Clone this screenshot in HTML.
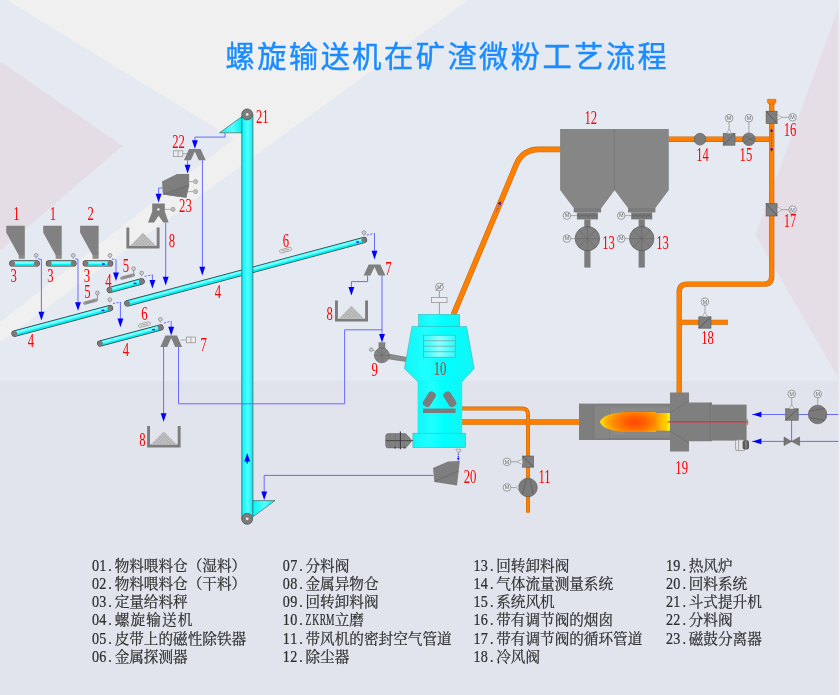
<!DOCTYPE html>
<html lang="zh-CN"><head><meta charset="utf-8"><title>螺旋输送机在矿渣微粉工艺流程</title>
<style>html,body{margin:0;padding:0;background:#e4e8f0}body{width:840px;height:695px;overflow:hidden;font-family:"Liberation Serif",serif}svg{display:block;will-change:transform}</style>
</head><body>
<svg width="840" height="695" viewBox="0 0 840 695" font-family="'Liberation Serif', serif">
<defs><linearGradient id="gb" x1="0" y1="0" x2="0" y2="1"><stop offset="0" stop-color="#e0e3eb"/><stop offset="0.1" stop-color="#e1e4ec"/><stop offset="1" stop-color="#e1e4ec"/></linearGradient><linearGradient id="gc" x1="0" y1="0" x2="1" y2="0"><stop offset="0" stop-color="#00f4f4"/><stop offset="0.55" stop-color="#55ffff"/><stop offset="1" stop-color="#00ecec"/></linearGradient><linearGradient id="gm" x1="0" y1="0" x2="1" y2="0"><stop offset="0" stop-color="#10f6f6"/><stop offset="0.3" stop-color="#20ffff"/><stop offset="0.6" stop-color="#00ffff"/><stop offset="1" stop-color="#14f4f4"/></linearGradient><linearGradient id="gw" x1="0" y1="0" x2="1" y2="0"><stop offset="0" stop-color="#28ffff"/><stop offset="0.5" stop-color="#8effff"/><stop offset="1" stop-color="#28ffff"/></linearGradient><radialGradient id="gf" cx="0.62" cy="0.5" r="0.63" gradientTransform="translate(0,0.5) scale(1,1.45) translate(0,-0.5)"><stop offset="0" stop-color="#ff4608"/><stop offset="0.3" stop-color="#ff6200"/><stop offset="0.6" stop-color="#ff8a00"/><stop offset="0.8" stop-color="#ffae00"/><stop offset="0.93" stop-color="#ffd600"/><stop offset="1" stop-color="#fff000"/></radialGradient><linearGradient id="gf2" x1="0" y1="0" x2="1" y2="0"><stop offset="0" stop-color="#ff9400"/><stop offset="1" stop-color="#ffd800"/></linearGradient><pattern id="dots" width="3.2" height="3.2" patternUnits="userSpaceOnUse"><rect width="3.2" height="3.2" fill="#b4b4b4"/><circle cx="0.8" cy="0.8" r="0.95" fill="#dedede" stroke="#8e8e8e" stroke-width="0.35"/><circle cx="2.4" cy="2.4" r="0.95" fill="#dedede" stroke="#8e8e8e" stroke-width="0.35"/></pattern></defs>
<rect x="0" y="0" width="840" height="695" fill="#e5e9f1"/>
<polygon points="7,0 468,0 0,342 0,322.3 233.5,139" fill="#f0f0f0"/>
<polygon points="0,61.6 122.6,145.8 0,250.7" fill="#e5dde5"/>
<polygon points="840,3.8 755.4,234.4 840,381" fill="#e6dee6"/>
<rect x="0" y="381" width="840" height="314" fill="url(#gb)"/>
<rect x="838.4" y="0" width="1.6" height="695" fill="#eceef3"/>
<path d="M453.4,314.6 L516.2,164.6 Q522.6,149.4 539.1,149.4 L561,149.4" fill="none" stroke="#c46a10" stroke-width="5.6" stroke-linejoin="round"/>
<path d="M453.4,314.6 L516.2,164.6 Q522.6,149.4 539.1,149.4 L561,149.4" fill="none" stroke="#ff8000" stroke-width="4.5" stroke-linejoin="round"/>
<path d="M668,139.2 L771.6,139.2" fill="none" stroke="#c46a10" stroke-width="5.4" stroke-linejoin="round"/>
<path d="M668,139.2 L771.6,139.2" fill="none" stroke="#ff8000" stroke-width="4.3" stroke-linejoin="round"/>
<path d="M771.7,101 L771.7,276.2 Q771.7,284.2 763.7,284.2 L687.2,284.2 Q679.2,284.2 679.2,292.2 L679.2,394" fill="none" stroke="#c46a10" stroke-width="5.3" stroke-linejoin="round"/>
<path d="M771.7,101 L771.7,276.2 Q771.7,284.2 763.7,284.2 L687.2,284.2 Q679.2,284.2 679.2,292.2 L679.2,394" fill="none" stroke="#ff8000" stroke-width="4.2" stroke-linejoin="round"/>
<path d="M679.2,322.3 L728,322.3" fill="none" stroke="#c46a10" stroke-width="5" stroke-linejoin="round"/>
<path d="M679.2,322.3 L728,322.3" fill="none" stroke="#ff8000" stroke-width="3.9" stroke-linejoin="round"/>
<path d="M768.2,99.3 h7 q0.8,0 0.8,0.8 v1.4 q0,1.6 -1.6,2.6 h-5.4 q-1.6,-1 -1.6,-2.6 v-1.4 q0,-0.8 0.8,-0.8z" fill="#ff8000" stroke="#c46a10" stroke-width="0.6"/>
<path d="M461,422 L580,422" fill="none" stroke="#c46a10" stroke-width="5.4" stroke-linejoin="round"/>
<path d="M461,422 L580,422" fill="none" stroke="#ff8000" stroke-width="4.3" stroke-linejoin="round"/>
<path d="M461,408.6 L522,408.6 Q528,408.6 528,414.6 L528,512.6" fill="none" stroke="#c46a10" stroke-width="4" stroke-linejoin="round"/>
<path d="M461,408.6 L522,408.6 Q528,408.6 528,414.6 L528,512.6" fill="none" stroke="#ff8000" stroke-width="2.9" stroke-linejoin="round"/>
<polygon points="6.25,225.8 24.8,225.8 24.8,255.2 18.75,255.2 6.25,232.5" fill="#818181"/>
<rect x="18.75" y="255" width="6.05" height="3.8" fill="#8b8b8b"/>
<polygon points="43.2,225.8 61.75,225.8 61.75,255.2 55.7,255.2 43.2,232.5" fill="#818181"/>
<rect x="55.7" y="255" width="6.05" height="3.8" fill="#8b8b8b"/>
<polygon points="80.1,225.8 98.65,225.8 98.65,255.2 92.6,255.2 80.1,232.5" fill="#818181"/>
<rect x="92.6" y="255" width="6.05" height="3.8" fill="#8b8b8b"/>
<line x1="12.4" y1="263.4" x2="36.6" y2="263.4" stroke="#3a3a3a" stroke-width="6.3" stroke-linecap="round"/>
<line x1="12.4" y1="263.4" x2="36.6" y2="263.4" stroke="#00f4f4" stroke-width="4.9"/>
<line x1="12.4" y1="262.7" x2="36.6" y2="262.7" stroke="#7dffff" stroke-width="2.2"/>
<circle cx="12.4" cy="263.4" r="2.65" fill="#7b7b7b"/>
<circle cx="36.6" cy="263.4" r="2.65" fill="#7b7b7b"/>
<line x1="49" y1="263.4" x2="73.4" y2="263.4" stroke="#3a3a3a" stroke-width="6.3" stroke-linecap="round"/>
<line x1="49" y1="263.4" x2="73.4" y2="263.4" stroke="#00f4f4" stroke-width="4.9"/>
<line x1="49" y1="262.7" x2="73.4" y2="262.7" stroke="#7dffff" stroke-width="2.2"/>
<circle cx="49" cy="263.4" r="2.65" fill="#7b7b7b"/>
<circle cx="73.4" cy="263.4" r="2.65" fill="#7b7b7b"/>
<line x1="85.8" y1="263.4" x2="110" y2="263.4" stroke="#3a3a3a" stroke-width="6.3" stroke-linecap="round"/>
<line x1="85.8" y1="263.4" x2="110" y2="263.4" stroke="#00f4f4" stroke-width="4.9"/>
<line x1="85.8" y1="262.7" x2="110" y2="262.7" stroke="#7dffff" stroke-width="2.2"/>
<circle cx="85.8" cy="263.4" r="2.65" fill="#7b7b7b"/>
<circle cx="110" cy="263.4" r="2.65" fill="#7b7b7b"/>
<line x1="109.8" y1="290" x2="141.6" y2="281.4" stroke="#3a3a3a" stroke-width="6.3" stroke-linecap="round"/>
<line x1="109.8" y1="290" x2="141.6" y2="281.4" stroke="#00f4f4" stroke-width="4.9"/>
<line x1="109.62" y1="289.32" x2="141.42" y2="280.72" stroke="#7dffff" stroke-width="2.2"/>
<circle cx="109.8" cy="290" r="2.65" fill="#7b7b7b"/>
<circle cx="141.6" cy="281.4" r="2.65" fill="#7b7b7b"/>
<line x1="14.6" y1="333.6" x2="110" y2="308.1" stroke="#3a3a3a" stroke-width="6.3" stroke-linecap="round"/>
<line x1="14.6" y1="333.6" x2="110" y2="308.1" stroke="#00f4f4" stroke-width="4.9"/>
<line x1="14.42" y1="332.92" x2="109.82" y2="307.42" stroke="#7dffff" stroke-width="2.2"/>
<circle cx="14.6" cy="333.6" r="2.65" fill="#7b7b7b"/>
<circle cx="110" cy="308.1" r="2.65" fill="#7b7b7b"/>
<line x1="127.4" y1="303.4" x2="364" y2="240" stroke="#3a3a3a" stroke-width="6.3" stroke-linecap="round"/>
<line x1="127.4" y1="303.4" x2="364" y2="240" stroke="#00f4f4" stroke-width="4.9"/>
<line x1="127.22" y1="302.72" x2="363.82" y2="239.32" stroke="#7dffff" stroke-width="2.2"/>
<circle cx="127.4" cy="303.4" r="2.65" fill="#7b7b7b"/>
<circle cx="364" cy="240" r="2.65" fill="#7b7b7b"/>
<line x1="100.2" y1="343.5" x2="160.5" y2="327.5" stroke="#3a3a3a" stroke-width="6.3" stroke-linecap="round"/>
<line x1="100.2" y1="343.5" x2="160.5" y2="327.5" stroke="#00f4f4" stroke-width="4.9"/>
<line x1="100.02" y1="342.82" x2="160.32" y2="326.82" stroke="#7dffff" stroke-width="2.2"/>
<circle cx="100.2" cy="343.5" r="2.65" fill="#7b7b7b"/>
<circle cx="160.5" cy="327.5" r="2.65" fill="#7b7b7b"/>
<circle cx="36.2" cy="255.4" r="1.9" fill="#cfcfcf" stroke="#858585" stroke-width="0.7"/>
<line x1="36.2" y1="257.3" x2="36.2" y2="259" stroke="#909090" stroke-width="0.6"/>
<circle cx="73.2" cy="255.4" r="1.9" fill="#cfcfcf" stroke="#858585" stroke-width="0.7"/>
<line x1="73.2" y1="257.3" x2="73.2" y2="259" stroke="#909090" stroke-width="0.6"/>
<circle cx="110" cy="255.4" r="1.9" fill="#cfcfcf" stroke="#858585" stroke-width="0.7"/>
<line x1="110" y1="257.3" x2="110" y2="259" stroke="#909090" stroke-width="0.6"/>
<circle cx="141.6" cy="273" r="1.9" fill="#cfcfcf" stroke="#858585" stroke-width="0.7"/>
<line x1="141.6" y1="274.9" x2="141.6" y2="276.6" stroke="#909090" stroke-width="0.6"/>
<circle cx="109.8" cy="299.6" r="1.9" fill="#cfcfcf" stroke="#858585" stroke-width="0.7"/>
<line x1="109.8" y1="301.5" x2="109.8" y2="303.2" stroke="#909090" stroke-width="0.6"/>
<circle cx="160.4" cy="319.4" r="1.9" fill="#cfcfcf" stroke="#858585" stroke-width="0.7"/>
<line x1="160.4" y1="321.3" x2="160.4" y2="323" stroke="#909090" stroke-width="0.6"/>
<circle cx="364" cy="232.6" r="1.9" fill="#cfcfcf" stroke="#858585" stroke-width="0.7"/>
<line x1="364" y1="234.5" x2="364" y2="236.2" stroke="#909090" stroke-width="0.6"/>
<circle cx="133.6" cy="268.6" r="1.9" fill="#cfcfcf" stroke="#858585" stroke-width="0.7"/>
<line x1="133.6" y1="270.5" x2="133.6" y2="272.2" stroke="#909090" stroke-width="0.6"/>
<circle cx="97.4" cy="293" r="1.9" fill="#cfcfcf" stroke="#858585" stroke-width="0.7"/>
<line x1="97.4" y1="294.9" x2="97.4" y2="296.6" stroke="#909090" stroke-width="0.6"/>
<g transform="translate(127.6,276.6) rotate(-15)"><rect x="-7.2" y="-1.2" width="14.4" height="2.4" rx="1.2" fill="#a8a8a8" stroke="#707070" stroke-width="0.6"/><line x1="-4.8" y1="0" x2="4.8" y2="0" stroke="#707070" stroke-width="0.6"/></g>
<g transform="translate(90.6,301.6) rotate(-15)"><rect x="-7.2" y="-1.2" width="14.4" height="2.4" rx="1.2" fill="#a8a8a8" stroke="#707070" stroke-width="0.6"/><line x1="-4.8" y1="0" x2="4.8" y2="0" stroke="#707070" stroke-width="0.6"/></g>
<line x1="133.6" y1="270.5" x2="133.8" y2="274.6" stroke="#808080" stroke-width="0.7"/>
<line x1="97.4" y1="294.9" x2="97.6" y2="299.4" stroke="#808080" stroke-width="0.7"/>
<g transform="translate(144.4,324.6) rotate(-15)"><rect x="-6.2" y="-1.7" width="12.4" height="3.4" rx="1.7" fill="#e6e6e6" stroke="#8a8a8a" stroke-width="0.6"/><line x1="-3.8" y1="0" x2="3.8" y2="0" stroke="#8a8a8a" stroke-width="0.6"/></g>
<g transform="translate(285.6,250.2) rotate(-15)"><rect x="-6.2" y="-1.7" width="12.4" height="3.4" rx="1.7" fill="#e6e6e6" stroke="#8a8a8a" stroke-width="0.6"/><line x1="-3.8" y1="0" x2="3.8" y2="0" stroke="#8a8a8a" stroke-width="0.6"/></g>
<path d="M126.4,227.4 h2.9 V245.7 H156.7 V227.4 h2.9 V248.6 H126.4z" fill="#7d7d7d"/>
<polygon points="143,232.8 155.9,245.7 130.1,245.7" fill="url(#dots)"/>
<path d="M147.1,426 h2.9 V444.5 H177.7 V426 h2.9 V447.4 H147.1z" fill="#7d7d7d"/>
<polygon points="163.85,431.4 176.9,444.5 150.8,444.5" fill="url(#dots)"/>
<path d="M335,300.4 h2.9 V318.7 H365.1 V300.4 h2.9 V321.6 H335z" fill="#7d7d7d"/>
<polygon points="351.5,305.8 364.3,318.7 338.7,318.7" fill="url(#dots)"/>
<polygon points="189,149 200.6,149 205.7,160.2 198.8,160.2 194.8,151.6 190.8,160.2 183.9,160.2" fill="#7f7f7f"/>
<polygon points="165.4,335.4 177,335.4 182.1,347 175.2,347 171.2,338 167.2,347 160.3,347" fill="#7f7f7f"/>
<polygon points="368.7,264.4 380.3,264.4 385.4,275.4 378.5,275.4 374.5,267 370.5,275.4 363.6,275.4" fill="#7f7f7f"/>
<rect x="173.4" y="150.8" width="9.4" height="5.8" fill="#ececec" stroke="#909090" stroke-width="0.7"/>
<line x1="178.1" y1="150.8" x2="178.1" y2="156.6" stroke="#909090" stroke-width="0.7"/>
<line x1="182.8" y1="153.8" x2="187" y2="153.8" stroke="#909090" stroke-width="0.7"/>
<rect x="186.4" y="337" width="9" height="5.8" fill="#ececec" stroke="#909090" stroke-width="0.7"/>
<line x1="190.9" y1="337" x2="190.9" y2="342.8" stroke="#909090" stroke-width="0.7"/>
<line x1="181" y1="340" x2="186.4" y2="340" stroke="#909090" stroke-width="0.7"/>
<polygon points="162,181.4 177,174.1 189.1,173.9 189.1,185 186.3,197.7 162.9,194.5" fill="#7e7e7e"/>
<polygon points="162.9,194.5 189.1,185.1 186.3,197.7" fill="#787878"/>
<line x1="162.9" y1="194.5" x2="189.1" y2="185.1" stroke="#666" stroke-width="0.6"/>
<line x1="188" y1="181.6" x2="193.4" y2="181.6" stroke="#909090" stroke-width="0.7"/>
<circle cx="195.6" cy="181.6" r="2.1" fill="#bdbdbd" stroke="#909090" stroke-width="0.6"/>
<line x1="188" y1="191.6" x2="193.4" y2="191.6" stroke="#909090" stroke-width="0.7"/>
<circle cx="195.6" cy="191.6" r="2.1" fill="#bdbdbd" stroke="#909090" stroke-width="0.6"/>
<polygon points="152.2,203.4 164.8,203.4 164.8,211.6 168.6,222.6 163.3,222.6 158.6,215.8 154.1,222.6 148,222.6 152.2,211.6" fill="#7e7e7e"/>
<circle cx="158.4" cy="209.4" r="1.2" fill="#f4f4f4"/>
<line x1="164.4" y1="209.4" x2="170.8" y2="209.4" stroke="#909090" stroke-width="0.7"/>
<circle cx="173" cy="209.4" r="2.1" fill="#bdbdbd" stroke="#909090" stroke-width="0.6"/>
<polygon points="219.6,132.8 242.4,116.2 242.4,132.8" fill="url(#gc)" stroke="#4a4a4a" stroke-width="0.6"/>
<polygon points="252.8,500.6 275,500.6 251.8,517.6" fill="url(#gc)" stroke="#4a4a4a" stroke-width="0.6"/>
<rect x="241.8" y="114.4" width="11" height="404.4" fill="url(#gc)"/>
<line x1="241.8" y1="116" x2="241.8" y2="519" stroke="#4a4a4a" stroke-width="0.7"/>
<line x1="252.9" y1="114.4" x2="252.9" y2="516" stroke="#4a4a4a" stroke-width="0.7"/>
<circle cx="247.2" cy="114.4" r="5.5" fill="#7c7c7c" stroke="#4a4a4a" stroke-width="0.7"/>
<circle cx="247.2" cy="114.4" r="1.4" fill="#e8e8e8"/>
<circle cx="247.2" cy="518.8" r="5.5" fill="#7c7c7c" stroke="#4a4a4a" stroke-width="0.7"/>
<circle cx="247.2" cy="518.8" r="1.4" fill="#e8e8e8"/>
<polygon points="388,353.6 406.8,357 406.8,361.9 388,359.2" fill="#868686"/>
<line x1="388" y1="356.4" x2="406.8" y2="359.4" stroke="#959595" stroke-width="0.8"/>
<rect x="378.9" y="342.6" width="6.1" height="6.4" fill="#848484" stroke="#666" stroke-width="0.4"/>
<circle cx="381.8" cy="355.3" r="7.5" fill="#878787" stroke="#606060" stroke-width="0.6"/>
<line x1="374.6" y1="355.3" x2="389" y2="355.3" stroke="#5e5e5e" stroke-width="0.5"/>
<line x1="376.71" y1="350.21" x2="386.89" y2="360.39" stroke="#5e5e5e" stroke-width="0.5"/>
<line x1="381.8" y1="348.1" x2="381.8" y2="362.5" stroke="#5e5e5e" stroke-width="0.5"/>
<line x1="386.89" y1="350.21" x2="376.71" y2="360.39" stroke="#5e5e5e" stroke-width="0.5"/>
<line x1="375.15" y1="352.54" x2="388.45" y2="358.06" stroke="#777" stroke-width="0.35"/>
<line x1="379.04" y1="348.65" x2="384.56" y2="361.95" stroke="#777" stroke-width="0.35"/>
<line x1="384.56" y1="348.65" x2="379.04" y2="361.95" stroke="#777" stroke-width="0.35"/>
<line x1="388.45" y1="352.54" x2="375.15" y2="358.06" stroke="#777" stroke-width="0.35"/>
<circle cx="371.2" cy="349.6" r="1.9" fill="#c4c4c4" stroke="#8a8a8a" stroke-width="0.6"/>
<line x1="373" y1="350.2" x2="375.2" y2="351.4" stroke="#909090" stroke-width="0.6"/>
<line x1="439.4" y1="291" x2="439.4" y2="314.4" stroke="#8a8a8a" stroke-width="0.8"/>
<rect x="431.4" y="297.4" width="15.6" height="5.2" fill="#eaedf3" stroke="#8a8a8a" stroke-width="0.7"/>
<circle cx="439.4" cy="287" r="3.9" fill="#e9ecf2" stroke="#858585" stroke-width="0.75"/>
<line x1="435.7" y1="291.1" x2="443.6" y2="282.9" stroke="#707070" stroke-width="0.7"/>
<text x="439.4" y="288.8" font-size="5" text-anchor="middle" fill="#777" font-family="Liberation Sans, sans-serif">M</text>
<rect x="418.6" y="314.4" width="41" height="12.6" fill="url(#gm)" stroke="#3aa" stroke-width="0.5"/>
<polygon points="412,326.4 466.6,326.4 474.2,368.6 462.2,381.4 417.6,381.4 404.4,368.6" fill="url(#gm)" stroke="#3aa" stroke-width="0.5"/>
<rect x="417.6" y="381.2" width="44.6" height="52.2" fill="url(#gm)"/>
<rect x="412.9" y="433.2" width="52.7" height="14.4" fill="url(#gm)" stroke="#3aa" stroke-width="0.5"/>
<rect x="423.6" y="335.2" width="31.6" height="22" fill="url(#gw)" stroke="#7a9a9a" stroke-width="0.7"/>
<line x1="423.6" y1="340.7" x2="455.2" y2="340.7" stroke="#7a9a9a" stroke-width="0.7"/>
<line x1="423.6" y1="346.2" x2="455.2" y2="346.2" stroke="#7a9a9a" stroke-width="0.7"/>
<line x1="423.6" y1="351.7" x2="455.2" y2="351.7" stroke="#7a9a9a" stroke-width="0.7"/>
<rect x="-4" y="-8.2" width="8" height="16.4" rx="3.2" fill="#7c7c7c" transform="translate(429.4,399.2) rotate(32)"/>
<rect x="-4" y="-8.2" width="8" height="16.4" rx="3.2" fill="#7c7c7c" transform="translate(449.8,399.2) rotate(-32)"/>
<rect x="423" y="408.6" width="32.6" height="4.4" fill="#7c7c7c"/>
<path d="M388.2,433.6 H405.4 L408,436 L411,439.4 V442 L408,445.6 L405.4,447.9 H388.2 Q385.7,447.9 385.7,445.4 V436.1 Q385.7,433.6 388.2,433.6z" fill="#828282" stroke="#5c5c5c" stroke-width="0.5"/>
<line x1="385.7" y1="440.7" x2="413" y2="440.7" stroke="#3c3c3c" stroke-width="0.9"/>
<line x1="400.4" y1="431.4" x2="400.4" y2="449.2" stroke="#3c3c3c" stroke-width="1.1"/>
<line x1="390" y1="434" x2="390" y2="447.6" stroke="#6a6a6a" stroke-width="0.5"/>
<line x1="395.2" y1="434" x2="395.2" y2="447.6" stroke="#6a6a6a" stroke-width="0.5"/>
<line x1="404.2" y1="434" x2="404.2" y2="447.6" stroke="#6a6a6a" stroke-width="0.5"/>
<rect x="394" y="446.8" width="2" height="1.6" fill="#4a4a4a"/>
<rect x="403.6" y="446.8" width="2" height="1.6" fill="#4a4a4a"/>
<polygon points="455.8,449.2 460.8,449.2 458.3,453" fill="#e8e8e8" stroke="#888" stroke-width="0.6"/>
<line x1="458.3" y1="453" x2="461.6" y2="450.4" stroke="#888" stroke-width="0.6"/>
<line x1="458.3" y1="453.6" x2="458.3" y2="460.6" stroke="#0000ff" stroke-width="1" stroke-dasharray="1.2,1"/>
<circle cx="458.3" cy="458.6" r="1.1" fill="#0000ff"/>
<polygon points="433,468 448,461.6 459.8,461 457,485.4 434.4,482" fill="#7e7e7e"/>
<line x1="434.6" y1="481.4" x2="458.6" y2="471" stroke="#626262" stroke-width="0.7"/>
<rect x="522.6" y="456" width="11" height="11.2" fill="#7e7e7e" stroke="#5a5a5a" stroke-width="0.6"/>
<line x1="522.6" y1="456" x2="533.6" y2="467.2" stroke="#4a4a4a" stroke-width="0.7"/>
<circle cx="528" cy="487.5" r="9.3" fill="#7a7a7a" stroke="#555" stroke-width="0.6"/>
<line x1="522.4" y1="494.6" x2="526.4" y2="478.4" stroke="#555" stroke-width="0.6"/>
<line x1="533.4" y1="494.8" x2="529.6" y2="478.4" stroke="#555" stroke-width="0.6"/>
<circle cx="507" cy="461.8" r="3.8" fill="#eaedf3" stroke="#808080" stroke-width="0.75"/>
<text x="507" y="463.6" font-size="5.4" text-anchor="middle" fill="#666" font-family="Liberation Sans, sans-serif">M</text>
<line x1="510.8" y1="461.8" x2="516.4" y2="461.8" stroke="#8c8c8c" stroke-width="0.7"/>
<polygon points="516.4,461.8 522.6,459.3 522.6,464.3" fill="#eceff4" stroke="#8c8c8c" stroke-width="0.6"/>
<circle cx="507" cy="487.5" r="3.8" fill="#eaedf3" stroke="#808080" stroke-width="0.75"/>
<text x="507" y="489.3" font-size="5.4" text-anchor="middle" fill="#666" font-family="Liberation Sans, sans-serif">M</text>
<line x1="510.8" y1="487.5" x2="516.4" y2="487.5" stroke="#8c8c8c" stroke-width="0.7"/>
<polygon points="516.4,487.5 518.7,485 518.7,490" fill="#eceff4" stroke="#8c8c8c" stroke-width="0.6"/>
<polygon points="560.1,129 614.5,129 614.5,190 601.1,208 573.7,208 560.1,190" fill="#868686"/>
<rect x="573.7" y="208" width="27.4" height="4.4" fill="#7c7c7c"/>
<rect x="576.9" y="212.4" width="21" height="7" fill="#787878"/>
<polyline points="577.7,215 579.8,216.4 581.9,215 584,216.4 586.1,215 588.2,216.4 590.3,215 592.4,216.4 594.5,215 596.6,216.4" fill="none" stroke="#555" stroke-width="0.6"/>
<rect x="584.3" y="219.4" width="6.2" height="48.2" fill="#7c7c7c"/>
<circle cx="587.4" cy="238.6" r="12.2" fill="#7f7f7f" stroke="#5a5a5a" stroke-width="0.7"/>
<line x1="575.4" y1="238.6" x2="599.4" y2="238.6" stroke="#646464" stroke-width="0.6"/>
<line x1="578.91" y1="230.11" x2="595.89" y2="247.09" stroke="#646464" stroke-width="0.6"/>
<line x1="587.4" y1="226.6" x2="587.4" y2="250.6" stroke="#646464" stroke-width="0.6"/>
<line x1="595.89" y1="230.11" x2="578.91" y2="247.09" stroke="#646464" stroke-width="0.6"/>
<circle cx="566.9" cy="215.6" r="3.8" fill="#eaedf3" stroke="#808080" stroke-width="0.75"/>
<text x="566.9" y="217.4" font-size="5.4" text-anchor="middle" fill="#666" font-family="Liberation Sans, sans-serif">M</text>
<line x1="570.5" y1="215.6" x2="576.9" y2="215.6" stroke="#8c8c8c" stroke-width="0.7"/>
<circle cx="566.9" cy="238.6" r="3.8" fill="#eaedf3" stroke="#808080" stroke-width="0.75"/>
<text x="566.9" y="240.4" font-size="5.4" text-anchor="middle" fill="#666" font-family="Liberation Sans, sans-serif">M</text>
<line x1="570.5" y1="238.6" x2="575.2" y2="238.6" stroke="#8c8c8c" stroke-width="0.7"/>
<polygon points="614.4,129 668.8,129 668.8,190 655.4,208 628,208 614.4,190" fill="#868686"/>
<rect x="628" y="208" width="27.4" height="4.4" fill="#7c7c7c"/>
<rect x="631.2" y="212.4" width="21" height="7" fill="#787878"/>
<polyline points="632,215 634.1,216.4 636.2,215 638.3,216.4 640.4,215 642.5,216.4 644.6,215 646.7,216.4 648.8,215 650.9,216.4" fill="none" stroke="#555" stroke-width="0.6"/>
<rect x="638.6" y="219.4" width="6.2" height="48.2" fill="#7c7c7c"/>
<circle cx="641.7" cy="238.6" r="12.2" fill="#7f7f7f" stroke="#5a5a5a" stroke-width="0.7"/>
<line x1="629.7" y1="238.6" x2="653.7" y2="238.6" stroke="#646464" stroke-width="0.6"/>
<line x1="633.21" y1="230.11" x2="650.19" y2="247.09" stroke="#646464" stroke-width="0.6"/>
<line x1="641.7" y1="226.6" x2="641.7" y2="250.6" stroke="#646464" stroke-width="0.6"/>
<line x1="650.19" y1="230.11" x2="633.21" y2="247.09" stroke="#646464" stroke-width="0.6"/>
<circle cx="621.2" cy="215.6" r="3.8" fill="#eaedf3" stroke="#808080" stroke-width="0.75"/>
<text x="621.2" y="217.4" font-size="5.4" text-anchor="middle" fill="#666" font-family="Liberation Sans, sans-serif">M</text>
<line x1="624.8" y1="215.6" x2="631.2" y2="215.6" stroke="#8c8c8c" stroke-width="0.7"/>
<circle cx="621.2" cy="238.6" r="3.8" fill="#eaedf3" stroke="#808080" stroke-width="0.75"/>
<text x="621.2" y="240.4" font-size="5.4" text-anchor="middle" fill="#666" font-family="Liberation Sans, sans-serif">M</text>
<line x1="624.8" y1="238.6" x2="629.5" y2="238.6" stroke="#8c8c8c" stroke-width="0.7"/>
<line x1="614.4" y1="129" x2="614.4" y2="190" stroke="#666" stroke-width="0.7"/>
<line x1="614.4" y1="190" x2="601" y2="208" stroke="#6e6e6e" stroke-width="0.5"/>
<circle cx="700" cy="139.2" r="5.9" fill="#7c7c7c" stroke="#5a5a5a" stroke-width="0.6"/>
<rect x="723.2" y="133.4" width="11.8" height="11.8" fill="#7e7e7e" stroke="#5a5a5a" stroke-width="0.6"/>
<line x1="723.2" y1="145.2" x2="735" y2="133.4" stroke="#4a4a4a" stroke-width="0.7"/>
<circle cx="748.9" cy="139.2" r="6.3" fill="#7c7c7c" stroke="#5a5a5a" stroke-width="0.6"/>
<line x1="744" y1="142.6" x2="753.6" y2="137.6" stroke="#555" stroke-width="0.5"/>
<line x1="744.4" y1="136" x2="753.8" y2="140.8" stroke="#555" stroke-width="0.5"/>
<circle cx="729.1" cy="118.2" r="3.8" fill="#eaedf3" stroke="#808080" stroke-width="0.75"/>
<text x="729.1" y="120" font-size="5.4" text-anchor="middle" fill="#666" font-family="Liberation Sans, sans-serif">M</text>
<line x1="729.1" y1="121.8" x2="729.1" y2="129.4" stroke="#8c8c8c" stroke-width="0.7"/>
<polygon points="729.1,129.2 726.6,133.4 731.6,133.4" fill="#eceff4" stroke="#8c8c8c" stroke-width="0.6"/>
<circle cx="748.9" cy="118.2" r="3.8" fill="#eaedf3" stroke="#808080" stroke-width="0.75"/>
<text x="748.9" y="120" font-size="5.4" text-anchor="middle" fill="#666" font-family="Liberation Sans, sans-serif">M</text>
<line x1="748.9" y1="121.8" x2="748.9" y2="133" stroke="#8c8c8c" stroke-width="0.7"/>
<rect x="766.1" y="111.2" width="11" height="12.4" fill="#7e7e7e" stroke="#5a5a5a" stroke-width="0.6"/>
<line x1="766.1" y1="111.2" x2="777.1" y2="123.6" stroke="#4a4a4a" stroke-width="0.7"/>
<polygon points="777.3,114.5 777.3,120.1 782,117.3" fill="#eceff4" stroke="#8c8c8c" stroke-width="0.6"/>
<line x1="782" y1="117.3" x2="789" y2="117.3" stroke="#8c8c8c" stroke-width="0.7"/>
<circle cx="792.6" cy="117.3" r="3.8" fill="#eaedf3" stroke="#808080" stroke-width="0.75"/>
<text x="792.6" y="119.1" font-size="5.4" text-anchor="middle" fill="#666" font-family="Liberation Sans, sans-serif">M</text>
<rect x="766.1" y="203.6" width="11" height="12.4" fill="#7e7e7e" stroke="#5a5a5a" stroke-width="0.6"/>
<line x1="766.1" y1="203.6" x2="777.1" y2="216" stroke="#4a4a4a" stroke-width="0.7"/>
<polygon points="777.3,206.9 777.3,212.5 782,209.7" fill="#eceff4" stroke="#8c8c8c" stroke-width="0.6"/>
<line x1="782" y1="209.7" x2="789" y2="209.7" stroke="#8c8c8c" stroke-width="0.7"/>
<circle cx="792.6" cy="209.7" r="3.8" fill="#eaedf3" stroke="#808080" stroke-width="0.75"/>
<text x="792.6" y="211.5" font-size="5.4" text-anchor="middle" fill="#666" font-family="Liberation Sans, sans-serif">M</text>
<rect x="698.8" y="316.8" width="12.2" height="11.4" fill="#7e7e7e" stroke="#5a5a5a" stroke-width="0.6"/>
<line x1="698.8" y1="328.2" x2="711" y2="316.8" stroke="#4a4a4a" stroke-width="0.7"/>
<circle cx="705" cy="301.7" r="3.8" fill="#eaedf3" stroke="#808080" stroke-width="0.75"/>
<text x="705" y="303.5" font-size="5.4" text-anchor="middle" fill="#666" font-family="Liberation Sans, sans-serif">M</text>
<line x1="705" y1="305.4" x2="705" y2="312.4" stroke="#8c8c8c" stroke-width="0.7"/>
<polygon points="705,312.2 702.4,316.8 707.6,316.8" fill="#eceff4" stroke="#8c8c8c" stroke-width="0.6"/>
<line x1="771.6" y1="131" x2="771.6" y2="150" stroke="#3030c0" stroke-width="0.7" stroke-dasharray="1.6,1.2"/>
<polygon points="770.2,131.6 773,131.6 771.6,128.4" fill="#0000ff"/>
<polygon points="770.2,148.6 773,148.6 771.6,151.8" fill="#0000ff"/>
<g transform="translate(499.8,203.2) rotate(22.8)"><line x1="0" y1="0" x2="0" y2="9" stroke="#5a3ad0" stroke-width="0.8" stroke-dasharray="1.6,1"/><polygon points="-1.5,1.2 1.5,1.2 0,-2.2" fill="#0000ff"/></g>
<rect x="579" y="403.6" width="91" height="36.4" fill="#7e7e7e"/>
<rect x="594" y="405.6" width="76" height="32.4" fill="#868686"/>
<rect x="609.6" y="408.4" width="60.4" height="26.8" fill="#8b8b8b"/>
<rect x="624" y="410.4" width="46" height="23.2" fill="#868686"/>
<line x1="594" y1="405.6" x2="594" y2="438" stroke="#6c6c6c" stroke-width="0.5"/>
<line x1="609.6" y1="408.4" x2="609.6" y2="435.2" stroke="#757575" stroke-width="0.5"/>
<path d="M600,422 C601.5,415.4 614,412 630,412 L656,412 L656,432 L630,432 C614,432 601.5,428.6 600,422z" fill="url(#gf)"/>
<rect x="655" y="413" width="12.4" height="17.6" fill="url(#gf2)"/>
<line x1="655.8" y1="413.6" x2="655.8" y2="422" stroke="#d88a00" stroke-width="0.5"/>
<rect x="667" y="413" width="3.3" height="17.8" fill="#f4f000"/>
<polygon points="670,392.4 689,392.4 689,402.4 712,402.4 712,441.2 689,441.2 689,451.6 670,451.6" fill="#7f7f7f"/>
<line x1="670" y1="413" x2="689" y2="401" stroke="#6a6a6a" stroke-width="0.6"/>
<line x1="670" y1="431" x2="689" y2="443" stroke="#6a6a6a" stroke-width="0.6"/>
<line x1="710" y1="402.6" x2="710" y2="441" stroke="#6c6c6c" stroke-width="0.6"/>
<rect x="712" y="404.6" width="34.6" height="36" fill="#7d7d7d"/>
<line x1="667.6" y1="421.9" x2="747.4" y2="421.9" stroke="#d6303c" stroke-width="1.3"/>
<rect x="746" y="419" width="1.6" height="2.4" fill="#40d040"/>
<rect x="746.6" y="420.4" width="1.6" height="4.4" fill="#c86a6a"/>
<rect x="735.6" y="439.8" width="9.4" height="10.8" fill="#e6e6e6" stroke="#777" stroke-width="0.6" rx="1.5"/>
<rect x="742.6" y="440.2" width="6.4" height="9.2" fill="#5a5a5a" rx="2"/>
<line x1="738.6" y1="440" x2="738.6" y2="450.4" stroke="#777" stroke-width="0.6"/>
<line x1="746" y1="441" x2="746" y2="448.6" stroke="#d0d0d0" stroke-width="0.6"/>
<line x1="752" y1="414.5" x2="838.4" y2="414.5" stroke="#6a6aff" stroke-width="1"/>
<line x1="752" y1="441.4" x2="838.4" y2="441.4" stroke="#6a6aff" stroke-width="1"/>
<line x1="791.6" y1="420" x2="791.6" y2="441.4" stroke="#6a6aff" stroke-width="1"/>
<polygon points="761.4,411.7 761.4,417.3 752.4,414.5" fill="#0000ff"/>
<polygon points="761.4,438.6 761.4,444.2 752.4,441.4" fill="#0000ff"/>
<rect x="785.6" y="408.8" width="12.6" height="11.4" fill="#7e7e7e" stroke="#5a5a5a" stroke-width="0.6"/>
<line x1="785.6" y1="420.2" x2="798.2" y2="408.8" stroke="#4a4a4a" stroke-width="0.7"/>
<circle cx="791.7" cy="394" r="3.8" fill="#eaedf3" stroke="#808080" stroke-width="0.75"/>
<text x="791.7" y="395.8" font-size="5.4" text-anchor="middle" fill="#666" font-family="Liberation Sans, sans-serif">M</text>
<line x1="791.7" y1="397.6" x2="791.7" y2="405" stroke="#8c8c8c" stroke-width="0.7"/>
<polygon points="791.7,404.8 789.2,409 794.2,409" fill="#eceff4" stroke="#8c8c8c" stroke-width="0.6"/>
<circle cx="817.6" cy="414.5" r="9.3" fill="#7a7a7a" stroke="#555" stroke-width="0.6"/>
<line x1="809.6" y1="411" x2="825" y2="408.6" stroke="#555" stroke-width="0.6"/>
<line x1="809.8" y1="417.6" x2="825" y2="420.4" stroke="#555" stroke-width="0.6"/>
<circle cx="817.7" cy="394" r="3.8" fill="#eaedf3" stroke="#808080" stroke-width="0.75"/>
<text x="817.7" y="395.8" font-size="5.4" text-anchor="middle" fill="#666" font-family="Liberation Sans, sans-serif">M</text>
<line x1="817.7" y1="397.6" x2="817.7" y2="405" stroke="#8c8c8c" stroke-width="0.7"/>
<polygon points="784,437 784,445.6 791.6,441.4" fill="#777" stroke="#555" stroke-width="0.5"/>
<polygon points="799.6,437 799.6,445.6 791.6,441.4" fill="#777" stroke="#555" stroke-width="0.5"/>
<polyline points="38,258.8 41.4,259.4 41.4,312" fill="none" stroke="#6a6aff" stroke-width="1"/>
<polygon points="38.45,311.8 44.35,311.8 41.4,320.4" fill="#0000ff"/>
<polyline points="75,258.8 78,259.4 78,303" fill="none" stroke="#6a6aff" stroke-width="1"/>
<polygon points="75.05,302.2 80.95,302.2 78,310.8" fill="#0000ff"/>
<polyline points="112,259 116,259.6" fill="none" stroke="#6a6aff" stroke-width="1" stroke-dasharray="2.2,1.4"/>
<line x1="116" y1="259.6" x2="116" y2="274" stroke="#6a6aff" stroke-width="1"/>
<polygon points="113.05,272.4 118.95,272.4 116,281" fill="#0000ff"/>
<polyline points="144.6,276.4 152.4,274.8" fill="none" stroke="#6a6aff" stroke-width="1" stroke-dasharray="2.2,1.4"/>
<line x1="152.4" y1="274.8" x2="152.4" y2="281" stroke="#6a6aff" stroke-width="1"/>
<polygon points="149.45,280 155.35,280 152.4,288.6" fill="#0000ff"/>
<polyline points="113,303.6 120.4,302" fill="none" stroke="#6a6aff" stroke-width="1" stroke-dasharray="2.2,1.4"/>
<line x1="120.4" y1="302" x2="120.4" y2="320" stroke="#6a6aff" stroke-width="1"/>
<polygon points="117.45,318.6 123.35,318.6 120.4,327.2" fill="#0000ff"/>
<polyline points="163.8,323 171.2,321.2" fill="none" stroke="#6a6aff" stroke-width="1" stroke-dasharray="2.2,1.4"/>
<line x1="171.2" y1="321.2" x2="171.2" y2="328" stroke="#6a6aff" stroke-width="1"/>
<polygon points="168.25,326.8 174.15,326.8 171.2,335.4" fill="#0000ff"/>
<polyline points="366.6,235 374.5,233.4" fill="none" stroke="#6a6aff" stroke-width="1" stroke-dasharray="2.2,1.4"/>
<line x1="374.5" y1="233.4" x2="374.5" y2="252" stroke="#6a6aff" stroke-width="1"/>
<polygon points="371.55,250.8 377.45,250.8 374.5,259.4" fill="#0000ff"/>
<polyline points="225,133 225,137.1 194.9,137.1 194.9,141" fill="none" stroke="#6a6aff" stroke-width="1"/>
<polygon points="191.95,140.2 197.85,140.2 194.9,148.8" fill="#0000ff"/>
<line x1="187.6" y1="160.2" x2="187.6" y2="166" stroke="#6a6aff" stroke-width="1"/>
<polygon points="184.65,164.8 190.55,164.8 187.6,173.4" fill="#0000ff"/>
<line x1="202.4" y1="160.2" x2="202.4" y2="268" stroke="#6a6aff" stroke-width="1"/>
<polygon points="199.35,266.8 205.25,266.8 202.3,275.4" fill="#0000ff"/>
<polyline points="162.6,188 158.6,188 158.6,195" fill="none" stroke="#6a6aff" stroke-width="1"/>
<polygon points="155.65,193.8 161.55,193.8 158.6,202.4" fill="#0000ff"/>
<line x1="165.7" y1="222.8" x2="165.7" y2="278" stroke="#6a6aff" stroke-width="1"/>
<polygon points="162.75,276.8 168.65,276.8 165.7,285.4" fill="#0000ff"/>
<line x1="163.6" y1="347" x2="163.6" y2="414" stroke="#6a6aff" stroke-width="1"/>
<polygon points="160.65,413.2 166.55,413.2 163.6,421.8" fill="#0000ff"/>
<polyline points="178.5,347 178.5,403.8 344.6,403.8 344.6,329.8 382,329.8" fill="none" stroke="#6a6aff" stroke-width="1"/>
<polyline points="367.6,275.4 367.6,281.6 351.4,281.6 351.4,288" fill="none" stroke="#6a6aff" stroke-width="1"/>
<polygon points="348.45,287 354.35,287 351.4,295.6" fill="#0000ff"/>
<line x1="382" y1="275.4" x2="382" y2="335" stroke="#6a6aff" stroke-width="1"/>
<polygon points="379.05,334 384.95,334 382,342.6" fill="#0000ff"/>
<polyline points="433.4,475.4 264.2,475.4 264.2,492" fill="none" stroke="#6a6aff" stroke-width="1"/>
<polygon points="261.25,491.4 267.15,491.4 264.2,500" fill="#0000ff"/>
<line x1="247.2" y1="458" x2="247.2" y2="463.6" stroke="#0000ff" stroke-width="1.2"/>
<polygon points="244.3,461.4 250.1,461.4 247.2,453" fill="#0000ff"/>
<rect x="102" y="263.3" width="2.8" height="1.4" fill="#1020e0"/>
<rect x="133.6" y="282.7" width="2.8" height="1.4" fill="#1020e0"/>
<rect x="101.6" y="309.7" width="2.8" height="1.4" fill="#1020e0"/>
<rect x="152.2" y="328.9" width="2.8" height="1.4" fill="#1020e0"/>
<rect x="356.2" y="241.3" width="2.8" height="1.4" fill="#1020e0"/>
<text transform="translate(16.4,220.2) scale(0.71,1)" font-size="17.9" text-anchor="middle" fill="#ff0000">1</text>
<text transform="translate(53,220.2) scale(0.71,1)" font-size="17.9" text-anchor="middle" fill="#ff0000">1</text>
<text transform="translate(90.6,220.2) scale(0.71,1)" font-size="17.9" text-anchor="middle" fill="#ff0000">2</text>
<text transform="translate(13.6,281.8) scale(0.71,1)" font-size="17.9" text-anchor="middle" fill="#ff0000">3</text>
<text transform="translate(50.4,281.8) scale(0.71,1)" font-size="17.9" text-anchor="middle" fill="#ff0000">3</text>
<text transform="translate(87,281.8) scale(0.71,1)" font-size="17.9" text-anchor="middle" fill="#ff0000">3</text>
<text transform="translate(108.4,286.8) scale(0.71,1)" font-size="17.9" text-anchor="middle" fill="#ff0000">4</text>
<text transform="translate(31,347) scale(0.71,1)" font-size="17.9" text-anchor="middle" fill="#ff0000">4</text>
<text transform="translate(126,356.2) scale(0.71,1)" font-size="17.9" text-anchor="middle" fill="#ff0000">4</text>
<text transform="translate(218,298.2) scale(0.71,1)" font-size="17.9" text-anchor="middle" fill="#ff0000">4</text>
<text transform="translate(126,271.8) scale(0.71,1)" font-size="17.9" text-anchor="middle" fill="#ff0000">5</text>
<text transform="translate(87.4,297.8) scale(0.71,1)" font-size="17.9" text-anchor="middle" fill="#ff0000">5</text>
<text transform="translate(144.4,319.8) scale(0.64,1)" font-size="19.8" text-anchor="middle" fill="#ff0000">6</text>
<text transform="translate(285.8,247) scale(0.64,1)" font-size="19.8" text-anchor="middle" fill="#ff0000">6</text>
<text transform="translate(203.6,351.2) scale(0.71,1)" font-size="17.9" text-anchor="middle" fill="#ff0000">7</text>
<text transform="translate(388.4,274.8) scale(0.71,1)" font-size="17.9" text-anchor="middle" fill="#ff0000">7</text>
<text transform="translate(172,246.8) scale(0.71,1)" font-size="17.9" text-anchor="middle" fill="#ff0000">8</text>
<text transform="translate(142.3,445.7) scale(0.71,1)" font-size="17.9" text-anchor="middle" fill="#ff0000">8</text>
<text transform="translate(329.6,320.2) scale(0.71,1)" font-size="17.9" text-anchor="middle" fill="#ff0000">8</text>
<text transform="translate(374.7,375.7) scale(0.71,1)" font-size="17.9" text-anchor="middle" fill="#ff0000">9</text>
<text transform="translate(544.6,483.2) scale(0.71,1)" font-size="17.9" text-anchor="middle" fill="#ff0000">11</text>
<text transform="translate(590.8,123.5) scale(0.71,1)" font-size="17.9" text-anchor="middle" fill="#ff0000">12</text>
<text transform="translate(608.6,248.8) scale(0.71,1)" font-size="17.9" text-anchor="middle" fill="#ff0000">13</text>
<text transform="translate(662.6,248.8) scale(0.71,1)" font-size="17.9" text-anchor="middle" fill="#ff0000">13</text>
<text transform="translate(702.5,161.3) scale(0.71,1)" font-size="17.9" text-anchor="middle" fill="#ff0000">14</text>
<text transform="translate(745.9,161.3) scale(0.71,1)" font-size="17.9" text-anchor="middle" fill="#ff0000">15</text>
<text transform="translate(790,135.6) scale(0.71,1)" font-size="17.9" text-anchor="middle" fill="#ff0000">16</text>
<text transform="translate(790,227.3) scale(0.71,1)" font-size="17.9" text-anchor="middle" fill="#ff0000">17</text>
<text transform="translate(707.6,343.8) scale(0.71,1)" font-size="17.9" text-anchor="middle" fill="#ff0000">18</text>
<text transform="translate(681.7,473.5) scale(0.71,1)" font-size="17.9" text-anchor="middle" fill="#ff0000">19</text>
<text transform="translate(470,482.7) scale(0.71,1)" font-size="17.9" text-anchor="middle" fill="#ff0000">20</text>
<text transform="translate(262.3,123) scale(0.71,1)" font-size="17.9" text-anchor="middle" fill="#ff0000">21</text>
<text transform="translate(178.6,148.2) scale(0.71,1)" font-size="17.9" text-anchor="middle" fill="#ff0000">22</text>
<text transform="translate(185.4,212.2) scale(0.71,1)" font-size="17.9" text-anchor="middle" fill="#ff0000">23</text>
<text transform="translate(440.1,375.2) scale(0.71,1)" font-size="17.9" text-anchor="middle" fill="#c43028">10</text>
<g role="img" aria-label="螺旋输送机在矿渣微粉工艺流程">
<text x="225.6" y="67.2" font-size="29.2" letter-spacing="2.5" fill="#1a8cff" stroke="#1a8cff" stroke-width="0.4" font-family="'Liberation Sans', 'Noto Sans CJK SC', sans-serif">螺旋输送机在矿渣微粉工艺流程</text>
</g>
<g role="img" aria-label="01.物料喂料仓（湿料）">
<g font-size="15.719999999999999" fill="#2e2e2e" stroke="#2e2e2e" stroke-width="0.22"><text transform="translate(95.45,570.5) scale(0.9,1)" text-anchor="middle">0</text><text transform="translate(102.77,570.5) scale(0.9,1)" text-anchor="middle">1</text><text transform="translate(110.07,570.5) scale(0.9,1)" text-anchor="middle">.</text></g>
<text x="114.63" y="570.5" font-size="14.62" fill="#2e2e2e" stroke="#2e2e2e" stroke-width="0.23" font-family="'Liberation Serif', 'Noto Serif CJK SC', serif">物料喂料仓（湿料）</text>
</g>
<g role="img" aria-label="02.物料喂料仓（干料）">
<g font-size="15.719999999999999" fill="#2e2e2e" stroke="#2e2e2e" stroke-width="0.22"><text transform="translate(95.45,588.8) scale(0.9,1)" text-anchor="middle">0</text><text transform="translate(102.77,588.8) scale(0.9,1)" text-anchor="middle">2</text><text transform="translate(110.07,588.8) scale(0.9,1)" text-anchor="middle">.</text></g>
<text x="114.63" y="588.8" font-size="14.62" fill="#2e2e2e" stroke="#2e2e2e" stroke-width="0.23" font-family="'Liberation Serif', 'Noto Serif CJK SC', serif">物料喂料仓（干料）</text>
</g>
<g role="img" aria-label="03.定量给料秤">
<g font-size="15.719999999999999" fill="#2e2e2e" stroke="#2e2e2e" stroke-width="0.22"><text transform="translate(95.45,607.1) scale(0.9,1)" text-anchor="middle">0</text><text transform="translate(102.77,607.1) scale(0.9,1)" text-anchor="middle">3</text><text transform="translate(110.07,607.1) scale(0.9,1)" text-anchor="middle">.</text></g>
<text x="114.63" y="607.1" font-size="14.62" fill="#2e2e2e" stroke="#2e2e2e" stroke-width="0.23" font-family="'Liberation Serif', 'Noto Serif CJK SC', serif">定量给料秤</text>
</g>
<g role="img" aria-label="04.螺旋输送机">
<g font-size="15.719999999999999" fill="#2e2e2e" stroke="#2e2e2e" stroke-width="0.22"><text transform="translate(95.45,625.4) scale(0.9,1)" text-anchor="middle">0</text><text transform="translate(102.77,625.4) scale(0.9,1)" text-anchor="middle">4</text><text transform="translate(110.07,625.4) scale(0.9,1)" text-anchor="middle">.</text></g>
<text x="114.63" y="625.4" font-size="14.62" letter-spacing="1.2" fill="#2e2e2e" stroke="#2e2e2e" stroke-width="0.23" font-family="'Liberation Serif', 'Noto Serif CJK SC', serif">螺旋输送机</text>
</g>
<g role="img" aria-label="05.皮带上的磁性除铁器">
<g font-size="15.719999999999999" fill="#2e2e2e" stroke="#2e2e2e" stroke-width="0.22"><text transform="translate(95.45,643.7) scale(0.9,1)" text-anchor="middle">0</text><text transform="translate(102.77,643.7) scale(0.9,1)" text-anchor="middle">5</text><text transform="translate(110.07,643.7) scale(0.9,1)" text-anchor="middle">.</text></g>
<text x="114.63" y="643.7" font-size="14.62" fill="#2e2e2e" stroke="#2e2e2e" stroke-width="0.23" font-family="'Liberation Serif', 'Noto Serif CJK SC', serif">皮带上的磁性除铁器</text>
</g>
<g role="img" aria-label="06.金属探测器">
<g font-size="15.719999999999999" fill="#2e2e2e" stroke="#2e2e2e" stroke-width="0.22"><text transform="translate(95.45,662) scale(0.9,1)" text-anchor="middle">0</text><text transform="translate(102.77,662) scale(0.9,1)" text-anchor="middle">6</text><text transform="translate(110.07,662) scale(0.9,1)" text-anchor="middle">.</text></g>
<text x="114.63" y="662" font-size="14.62" fill="#2e2e2e" stroke="#2e2e2e" stroke-width="0.23" font-family="'Liberation Serif', 'Noto Serif CJK SC', serif">金属探测器</text>
</g>
<g role="img" aria-label="07.分料阀">
<g font-size="15.719999999999999" fill="#2e2e2e" stroke="#2e2e2e" stroke-width="0.22"><text transform="translate(286.36,570.5) scale(0.9,1)" text-anchor="middle">0</text><text transform="translate(293.67,570.5) scale(0.9,1)" text-anchor="middle">7</text><text transform="translate(300.98,570.5) scale(0.9,1)" text-anchor="middle">.</text></g>
<text x="305.53" y="570.5" font-size="14.62" fill="#2e2e2e" stroke="#2e2e2e" stroke-width="0.23" font-family="'Liberation Serif', 'Noto Serif CJK SC', serif">分料阀</text>
</g>
<g role="img" aria-label="08.金属异物仓">
<g font-size="15.719999999999999" fill="#2e2e2e" stroke="#2e2e2e" stroke-width="0.22"><text transform="translate(286.36,588.8) scale(0.9,1)" text-anchor="middle">0</text><text transform="translate(293.67,588.8) scale(0.9,1)" text-anchor="middle">8</text><text transform="translate(300.98,588.8) scale(0.9,1)" text-anchor="middle">.</text></g>
<text x="305.53" y="588.8" font-size="14.62" fill="#2e2e2e" stroke="#2e2e2e" stroke-width="0.23" font-family="'Liberation Serif', 'Noto Serif CJK SC', serif">金属异物仓</text>
</g>
<g role="img" aria-label="09.回转卸料阀">
<g font-size="15.719999999999999" fill="#2e2e2e" stroke="#2e2e2e" stroke-width="0.22"><text transform="translate(286.36,607.1) scale(0.9,1)" text-anchor="middle">0</text><text transform="translate(293.67,607.1) scale(0.9,1)" text-anchor="middle">9</text><text transform="translate(300.98,607.1) scale(0.9,1)" text-anchor="middle">.</text></g>
<text x="305.53" y="607.1" font-size="14.62" fill="#2e2e2e" stroke="#2e2e2e" stroke-width="0.23" font-family="'Liberation Serif', 'Noto Serif CJK SC', serif">回转卸料阀</text>
</g>
<g role="img" aria-label="10.ZKRM立磨">
<g font-size="15.719999999999999" fill="#2e2e2e" stroke="#2e2e2e" stroke-width="0.22"><text transform="translate(286.36,625.4) scale(0.9,1)" text-anchor="middle">1</text><text transform="translate(293.67,625.4) scale(0.9,1)" text-anchor="middle">0</text><text transform="translate(300.98,625.4) scale(0.9,1)" text-anchor="middle">.</text><text transform="translate(308.29,625.4) scale(0.6,1)" text-anchor="middle">Z</text><text transform="translate(315.6,625.4) scale(0.6,1)" text-anchor="middle">K</text><text transform="translate(322.91,625.4) scale(0.6,1)" text-anchor="middle">R</text><text transform="translate(330.22,625.4) scale(0.6,1)" text-anchor="middle">M</text></g>
<text x="334.77" y="625.4" font-size="14.62" fill="#2e2e2e" stroke="#2e2e2e" stroke-width="0.23" font-family="'Liberation Serif', 'Noto Serif CJK SC', serif">立磨</text>
</g>
<g role="img" aria-label="11.带风机的密封空气管道">
<g font-size="15.719999999999999" fill="#2e2e2e" stroke="#2e2e2e" stroke-width="0.22"><text transform="translate(286.36,643.7) scale(0.9,1)" text-anchor="middle">1</text><text transform="translate(293.67,643.7) scale(0.9,1)" text-anchor="middle">1</text><text transform="translate(300.98,643.7) scale(0.9,1)" text-anchor="middle">.</text></g>
<text x="305.53" y="643.7" font-size="14.62" fill="#2e2e2e" stroke="#2e2e2e" stroke-width="0.23" font-family="'Liberation Serif', 'Noto Serif CJK SC', serif">带风机的密封空气管道</text>
</g>
<g role="img" aria-label="12.除尘器">
<g font-size="15.719999999999999" fill="#2e2e2e" stroke="#2e2e2e" stroke-width="0.22"><text transform="translate(286.36,662) scale(0.9,1)" text-anchor="middle">1</text><text transform="translate(293.67,662) scale(0.9,1)" text-anchor="middle">2</text><text transform="translate(300.98,662) scale(0.9,1)" text-anchor="middle">.</text></g>
<text x="305.53" y="662" font-size="14.62" fill="#2e2e2e" stroke="#2e2e2e" stroke-width="0.23" font-family="'Liberation Serif', 'Noto Serif CJK SC', serif">除尘器</text>
</g>
<g role="img" aria-label="13.回转卸料阀">
<g font-size="15.719999999999999" fill="#2e2e2e" stroke="#2e2e2e" stroke-width="0.22"><text transform="translate(477.06,570.5) scale(0.9,1)" text-anchor="middle">1</text><text transform="translate(484.37,570.5) scale(0.9,1)" text-anchor="middle">3</text><text transform="translate(491.68,570.5) scale(0.9,1)" text-anchor="middle">.</text></g>
<text x="496.23" y="570.5" font-size="14.62" fill="#2e2e2e" stroke="#2e2e2e" stroke-width="0.23" font-family="'Liberation Serif', 'Noto Serif CJK SC', serif">回转卸料阀</text>
</g>
<g role="img" aria-label="14.气体流量测量系统">
<g font-size="15.719999999999999" fill="#2e2e2e" stroke="#2e2e2e" stroke-width="0.22"><text transform="translate(477.06,588.8) scale(0.9,1)" text-anchor="middle">1</text><text transform="translate(484.37,588.8) scale(0.9,1)" text-anchor="middle">4</text><text transform="translate(491.68,588.8) scale(0.9,1)" text-anchor="middle">.</text></g>
<text x="496.23" y="588.8" font-size="14.62" fill="#2e2e2e" stroke="#2e2e2e" stroke-width="0.23" font-family="'Liberation Serif', 'Noto Serif CJK SC', serif">气体流量测量系统</text>
</g>
<g role="img" aria-label="15.系统风机">
<g font-size="15.719999999999999" fill="#2e2e2e" stroke="#2e2e2e" stroke-width="0.22"><text transform="translate(477.06,607.1) scale(0.9,1)" text-anchor="middle">1</text><text transform="translate(484.37,607.1) scale(0.9,1)" text-anchor="middle">5</text><text transform="translate(491.68,607.1) scale(0.9,1)" text-anchor="middle">.</text></g>
<text x="496.23" y="607.1" font-size="14.62" fill="#2e2e2e" stroke="#2e2e2e" stroke-width="0.23" font-family="'Liberation Serif', 'Noto Serif CJK SC', serif">系统风机</text>
</g>
<g role="img" aria-label="16.带有调节阀的烟囱">
<g font-size="15.719999999999999" fill="#2e2e2e" stroke="#2e2e2e" stroke-width="0.22"><text transform="translate(477.06,625.4) scale(0.9,1)" text-anchor="middle">1</text><text transform="translate(484.37,625.4) scale(0.9,1)" text-anchor="middle">6</text><text transform="translate(491.68,625.4) scale(0.9,1)" text-anchor="middle">.</text></g>
<text x="496.23" y="625.4" font-size="14.62" fill="#2e2e2e" stroke="#2e2e2e" stroke-width="0.23" font-family="'Liberation Serif', 'Noto Serif CJK SC', serif">带有调节阀的烟囱</text>
</g>
<g role="img" aria-label="17.带有调节阀的循环管道">
<g font-size="15.719999999999999" fill="#2e2e2e" stroke="#2e2e2e" stroke-width="0.22"><text transform="translate(477.06,643.7) scale(0.9,1)" text-anchor="middle">1</text><text transform="translate(484.37,643.7) scale(0.9,1)" text-anchor="middle">7</text><text transform="translate(491.68,643.7) scale(0.9,1)" text-anchor="middle">.</text></g>
<text x="496.23" y="643.7" font-size="14.62" fill="#2e2e2e" stroke="#2e2e2e" stroke-width="0.23" font-family="'Liberation Serif', 'Noto Serif CJK SC', serif">带有调节阀的循环管道</text>
</g>
<g role="img" aria-label="18.冷风阀">
<g font-size="15.719999999999999" fill="#2e2e2e" stroke="#2e2e2e" stroke-width="0.22"><text transform="translate(477.06,662) scale(0.9,1)" text-anchor="middle">1</text><text transform="translate(484.37,662) scale(0.9,1)" text-anchor="middle">8</text><text transform="translate(491.68,662) scale(0.9,1)" text-anchor="middle">.</text></g>
<text x="496.23" y="662" font-size="14.62" fill="#2e2e2e" stroke="#2e2e2e" stroke-width="0.23" font-family="'Liberation Serif', 'Noto Serif CJK SC', serif">冷风阀</text>
</g>
<g role="img" aria-label="19.热风炉">
<g font-size="15.719999999999999" fill="#2e2e2e" stroke="#2e2e2e" stroke-width="0.22"><text transform="translate(669.55,570.5) scale(0.9,1)" text-anchor="middle">1</text><text transform="translate(676.87,570.5) scale(0.9,1)" text-anchor="middle">9</text><text transform="translate(684.17,570.5) scale(0.9,1)" text-anchor="middle">.</text></g>
<text x="688.73" y="570.5" font-size="14.62" fill="#2e2e2e" stroke="#2e2e2e" stroke-width="0.23" font-family="'Liberation Serif', 'Noto Serif CJK SC', serif">热风炉</text>
</g>
<g role="img" aria-label="20.回料系统">
<g font-size="15.719999999999999" fill="#2e2e2e" stroke="#2e2e2e" stroke-width="0.22"><text transform="translate(669.55,588.8) scale(0.9,1)" text-anchor="middle">2</text><text transform="translate(676.87,588.8) scale(0.9,1)" text-anchor="middle">0</text><text transform="translate(684.17,588.8) scale(0.9,1)" text-anchor="middle">.</text></g>
<text x="688.73" y="588.8" font-size="14.62" fill="#2e2e2e" stroke="#2e2e2e" stroke-width="0.23" font-family="'Liberation Serif', 'Noto Serif CJK SC', serif">回料系统</text>
</g>
<g role="img" aria-label="21.斗式提升机">
<g font-size="15.719999999999999" fill="#2e2e2e" stroke="#2e2e2e" stroke-width="0.22"><text transform="translate(669.55,607.1) scale(0.9,1)" text-anchor="middle">2</text><text transform="translate(676.87,607.1) scale(0.9,1)" text-anchor="middle">1</text><text transform="translate(684.17,607.1) scale(0.9,1)" text-anchor="middle">.</text></g>
<text x="688.73" y="607.1" font-size="14.62" fill="#2e2e2e" stroke="#2e2e2e" stroke-width="0.23" font-family="'Liberation Serif', 'Noto Serif CJK SC', serif">斗式提升机</text>
</g>
<g role="img" aria-label="22.分料阀">
<g font-size="15.719999999999999" fill="#2e2e2e" stroke="#2e2e2e" stroke-width="0.22"><text transform="translate(669.55,625.4) scale(0.9,1)" text-anchor="middle">2</text><text transform="translate(676.87,625.4) scale(0.9,1)" text-anchor="middle">2</text><text transform="translate(684.17,625.4) scale(0.9,1)" text-anchor="middle">.</text></g>
<text x="688.73" y="625.4" font-size="14.62" fill="#2e2e2e" stroke="#2e2e2e" stroke-width="0.23" font-family="'Liberation Serif', 'Noto Serif CJK SC', serif">分料阀</text>
</g>
<g role="img" aria-label="23.磁鼓分离器">
<g font-size="15.719999999999999" fill="#2e2e2e" stroke="#2e2e2e" stroke-width="0.22"><text transform="translate(669.55,643.7) scale(0.9,1)" text-anchor="middle">2</text><text transform="translate(676.87,643.7) scale(0.9,1)" text-anchor="middle">3</text><text transform="translate(684.17,643.7) scale(0.9,1)" text-anchor="middle">.</text></g>
<text x="688.73" y="643.7" font-size="14.62" fill="#2e2e2e" stroke="#2e2e2e" stroke-width="0.23" font-family="'Liberation Serif', 'Noto Serif CJK SC', serif">磁鼓分离器</text>
</g>
</svg>
</body></html>
